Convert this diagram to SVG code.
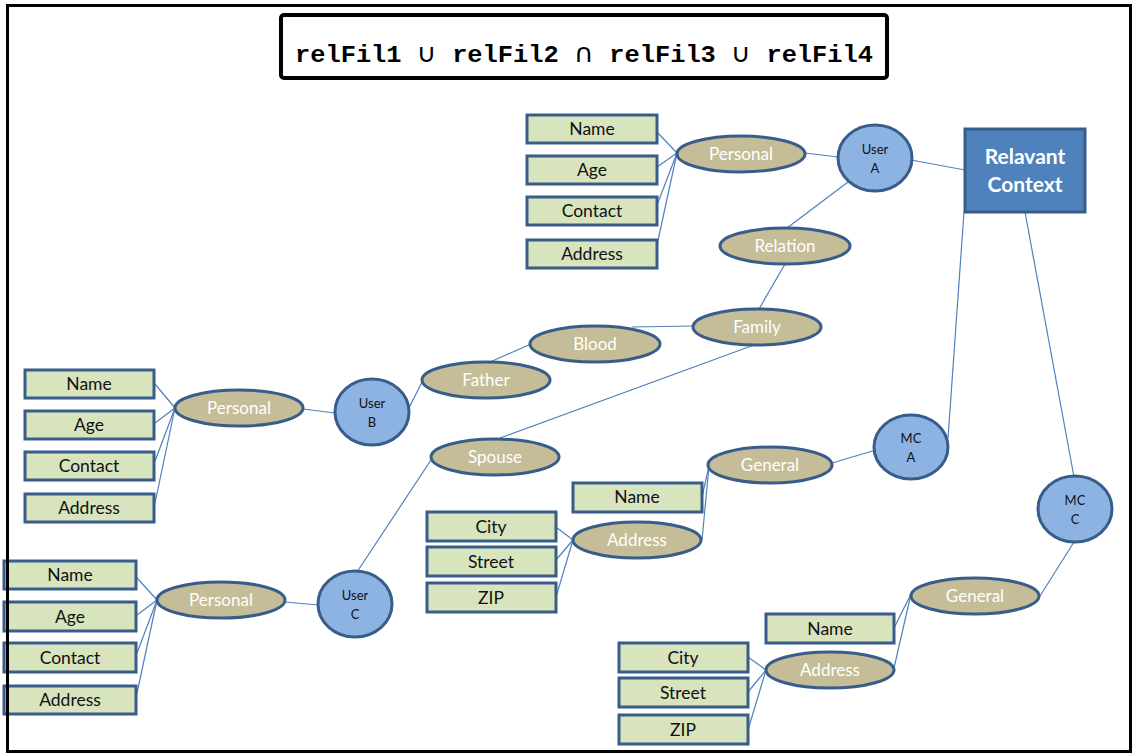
<svg xmlns="http://www.w3.org/2000/svg" width="1135" height="753" viewBox="0 0 1135 753">
  <style>
    .attr { fill: #D7E4BD; stroke: #385D8A; stroke-width: 3; }
    .attr-t { font-family: Lato, "Open Sans", "Liberation Sans", sans-serif; font-size: 17.5px; fill: #111; text-anchor: middle; }
    .cat { fill: #C4BD97; stroke: #385D8A; stroke-width: 3; }
    .cat-t { font-family: Lato, "Open Sans", "Liberation Sans", sans-serif; font-size: 17px; fill: #FFFFFF; text-anchor: middle; }
    .ent { fill: #8DB3E2; stroke: #385D8A; stroke-width: 3; }
    .ent-t { font-family: Lato, "Open Sans", "Liberation Sans", sans-serif; font-size: 13px; fill: #111; text-anchor: middle; }
    .edges line { stroke: #4F81BD; stroke-width: 1.2; }
    .op { font-family: "DejaVu Sans", sans-serif; font-weight: normal; }
  </style>

  <rect width="1135" height="753" fill="#FFFFFF"/>

  <!-- connectors -->
  <g class="edges" id="connectors">
    <!-- User A personal attributes -->
    <line x1="677" y1="153" x2="657" y2="132"/>
    <line x1="677" y1="153" x2="657" y2="167"/>
    <line x1="677" y1="153" x2="657" y2="205"/>
    <line x1="677" y1="153" x2="657" y2="245"/>
    <line x1="805" y1="153" x2="838" y2="157"/>
    <line x1="911" y1="160" x2="965" y2="170"/>
    <line x1="848" y1="182" x2="787" y2="228"/>
    <line x1="785" y1="264" x2="759" y2="309"/>
    <!-- family branch -->
    <line x1="693" y1="326" x2="632" y2="327"/>
    <line x1="531" y1="344" x2="490" y2="362"/>
    <line x1="422" y1="382" x2="409" y2="408"/>
    <line x1="754" y1="345" x2="500" y2="438"/>
    <line x1="431" y1="460" x2="357" y2="572"/>
    <!-- User B personal attributes -->
    <line x1="175" y1="408" x2="155" y2="384"/>
    <line x1="175" y1="408" x2="155" y2="423"/>
    <line x1="175" y1="408" x2="155" y2="461"/>
    <line x1="175" y1="408" x2="155" y2="503"/>
    <line x1="303" y1="409" x2="335" y2="413"/>
    <!-- User C personal attributes -->
    <line x1="157" y1="600" x2="137" y2="578"/>
    <line x1="157" y1="600" x2="137" y2="615"/>
    <line x1="157" y1="600" x2="137" y2="653"/>
    <line x1="157" y1="600" x2="137" y2="693"/>
    <line x1="285" y1="602" x2="318" y2="605"/>
    <!-- MC A general -->
    <line x1="709" y1="466" x2="702" y2="497"/>
    <line x1="709" y1="466" x2="702" y2="540"/>
    <line x1="573" y1="540" x2="556" y2="527"/>
    <line x1="573" y1="540" x2="556" y2="560"/>
    <line x1="573" y1="540" x2="556" y2="597"/>
    <line x1="832" y1="463" x2="876" y2="450"/>
    <line x1="948" y1="438" x2="964" y2="212"/>
    <!-- MC C general -->
    <line x1="1025" y1="212" x2="1074" y2="477"/>
    <line x1="1074" y1="542" x2="1040" y2="596"/>
    <line x1="911" y1="594" x2="894" y2="628"/>
    <line x1="911" y1="594" x2="894" y2="668"/>
    <line x1="766" y1="670" x2="748" y2="657"/>
    <line x1="766" y1="670" x2="748" y2="692"/>
    <line x1="766" y1="670" x2="748" y2="730"/>
  </g>

  <!-- expression banner -->
  <g id="expression">
    <rect x="281" y="15" width="606" height="63" rx="3" fill="#FFFFFF" stroke="#000" stroke-width="4"/>
    <text x="584" y="62" font-family="'Liberation Mono', 'DejaVu Sans Mono', monospace" font-weight="bold" font-size="24" text-anchor="middle" textLength="578" lengthAdjust="spacingAndGlyphs" fill="#000">relFil1 <tspan class="op" font-size="26">∪</tspan> relFil2 <tspan class="op" font-size="26">∩</tspan> relFil3 <tspan class="op" font-size="26">∪</tspan> relFil4</text>
  </g>

  <!-- relevant context -->
  <g id="relevant-context">
    <rect x="965" y="129" width="120" height="83" fill="#4F81BD" stroke="#385D8A" stroke-width="3"/>
    <text x="1025" y="164" font-family="Lato, 'Open Sans', 'Liberation Sans', sans-serif" font-weight="bold" font-size="21" fill="#FFFFFF" text-anchor="middle">Relavant</text>
    <text x="1025" y="192" font-family="Lato, 'Open Sans', 'Liberation Sans', sans-serif" font-weight="bold" font-size="21" fill="#FFFFFF" text-anchor="middle">Context</text>
  </g>

  <!-- entities -->
  <g id="user-a"><ellipse class="ent" cx="875" cy="158" rx="37" ry="33"/><text class="ent-t" x="875" y="154">User</text><text class="ent-t" x="875" y="173">A</text></g>
  <g id="user-b"><ellipse class="ent" cx="372" cy="412" rx="37" ry="33"/><text class="ent-t" x="372" y="408">User</text><text class="ent-t" x="372" y="427">B</text></g>
  <g id="user-c"><ellipse class="ent" cx="355" cy="604" rx="37" ry="33"/><text class="ent-t" x="355" y="600">User</text><text class="ent-t" x="355" y="619">C</text></g>
  <g id="mc-a"><ellipse class="ent" cx="911" cy="447" rx="37" ry="32"/><text class="ent-t" x="911" y="443">MC</text><text class="ent-t" x="911" y="462">A</text></g>
  <g id="mc-c"><ellipse class="ent" cx="1075" cy="509" rx="37" ry="33"/><text class="ent-t" x="1075" y="505">MC</text><text class="ent-t" x="1075" y="524">C</text></g>

  <!-- categories -->
  <g id="personal-a"><ellipse class="cat" cx="741" cy="154" rx="64" ry="18"/><text class="cat-t" x="741" y="160">Personal</text></g>
  <g id="relation"><ellipse class="cat" cx="785" cy="246" rx="65" ry="18"/><text class="cat-t" x="785" y="252">Relation</text></g>
  <g id="family"><ellipse class="cat" cx="757" cy="327" rx="64" ry="18"/><text class="cat-t" x="757" y="333">Family</text></g>
  <g id="blood"><ellipse class="cat" cx="595" cy="344" rx="65" ry="18"/><text class="cat-t" x="595" y="350">Blood</text></g>
  <g id="father"><ellipse class="cat" cx="486" cy="380" rx="64" ry="18"/><text class="cat-t" x="486" y="386">Father</text></g>
  <g id="personal-b"><ellipse class="cat" cx="239" cy="408" rx="64" ry="18"/><text class="cat-t" x="239" y="414">Personal</text></g>
  <g id="spouse"><ellipse class="cat" cx="495" cy="457" rx="64" ry="18"/><text class="cat-t" x="495" y="463">Spouse</text></g>
  <g id="personal-c"><ellipse class="cat" cx="221" cy="600" rx="64" ry="18"/><text class="cat-t" x="221" y="606">Personal</text></g>
  <g id="general-a"><ellipse class="cat" cx="770" cy="465" rx="62" ry="18"/><text class="cat-t" x="770" y="471">General</text></g>
  <g id="address-a"><ellipse class="cat" cx="637" cy="540" rx="64" ry="18"/><text class="cat-t" x="637" y="546">Address</text></g>
  <g id="general-c"><ellipse class="cat" cx="975" cy="596" rx="64" ry="18"/><text class="cat-t" x="975" y="602">General</text></g>
  <g id="address-c"><ellipse class="cat" cx="830" cy="670" rx="64" ry="18"/><text class="cat-t" x="830" y="676">Address</text></g>

  <!-- attributes: User A -->
  <g id="a-name"><rect class="attr" x="527" y="115" width="130" height="28"/><text class="attr-t" x="592" y="135">Name</text></g>
  <g id="a-age"><rect class="attr" x="527" y="156" width="130" height="28"/><text class="attr-t" x="592" y="176">Age</text></g>
  <g id="a-contact"><rect class="attr" x="527" y="197" width="130" height="28"/><text class="attr-t" x="592" y="217">Contact</text></g>
  <g id="a-address"><rect class="attr" x="527" y="240" width="130" height="28"/><text class="attr-t" x="592" y="260">Address</text></g>

  <!-- attributes: User B -->
  <g id="b-name"><rect class="attr" x="25" y="370" width="129" height="28"/><text class="attr-t" x="89" y="390">Name</text></g>
  <g id="b-age"><rect class="attr" x="25" y="411" width="129" height="28"/><text class="attr-t" x="89" y="431">Age</text></g>
  <g id="b-contact"><rect class="attr" x="25" y="452" width="129" height="28"/><text class="attr-t" x="89" y="472">Contact</text></g>
  <g id="b-address"><rect class="attr" x="25" y="494" width="129" height="28"/><text class="attr-t" x="89" y="514">Address</text></g>

  <!-- attributes: User C -->
  <g id="c-name"><rect class="attr" x="4" y="561" width="132" height="28"/><text class="attr-t" x="70" y="581">Name</text></g>
  <g id="c-age"><rect class="attr" x="4" y="602" width="132" height="29"/><text class="attr-t" x="70" y="623">Age</text></g>
  <g id="c-contact"><rect class="attr" x="4" y="643" width="132" height="29"/><text class="attr-t" x="70" y="664">Contact</text></g>
  <g id="c-address"><rect class="attr" x="4" y="686" width="132" height="28"/><text class="attr-t" x="70" y="706">Address</text></g>

  <!-- attributes: MC A -->
  <g id="mca-name"><rect class="attr" x="573" y="483" width="129" height="29"/><text class="attr-t" x="637" y="503">Name</text></g>
  <g id="mca-city"><rect class="attr" x="427" y="512" width="129" height="29"/><text class="attr-t" x="491" y="533">City</text></g>
  <g id="mca-street"><rect class="attr" x="427" y="547" width="129" height="29"/><text class="attr-t" x="491" y="568">Street</text></g>
  <g id="mca-zip"><rect class="attr" x="427" y="583" width="129" height="29"/><text class="attr-t" x="491" y="604">ZIP</text></g>

  <!-- attributes: MC C -->
  <g id="mcc-name"><rect class="attr" x="766" y="614" width="128" height="29"/><text class="attr-t" x="830" y="635">Name</text></g>
  <g id="mcc-city"><rect class="attr" x="619" y="643" width="129" height="29"/><text class="attr-t" x="683" y="664">City</text></g>
  <g id="mcc-street"><rect class="attr" x="619" y="678" width="129" height="29"/><text class="attr-t" x="683" y="699">Street</text></g>
  <g id="mcc-zip"><rect class="attr" x="619" y="715" width="129" height="29"/><text class="attr-t" x="683" y="736">ZIP</text></g>

  <!-- outer frame -->
  <rect x="7.5" y="5.5" width="1123" height="746" fill="none" stroke="#000" stroke-width="3"/>
</svg>
